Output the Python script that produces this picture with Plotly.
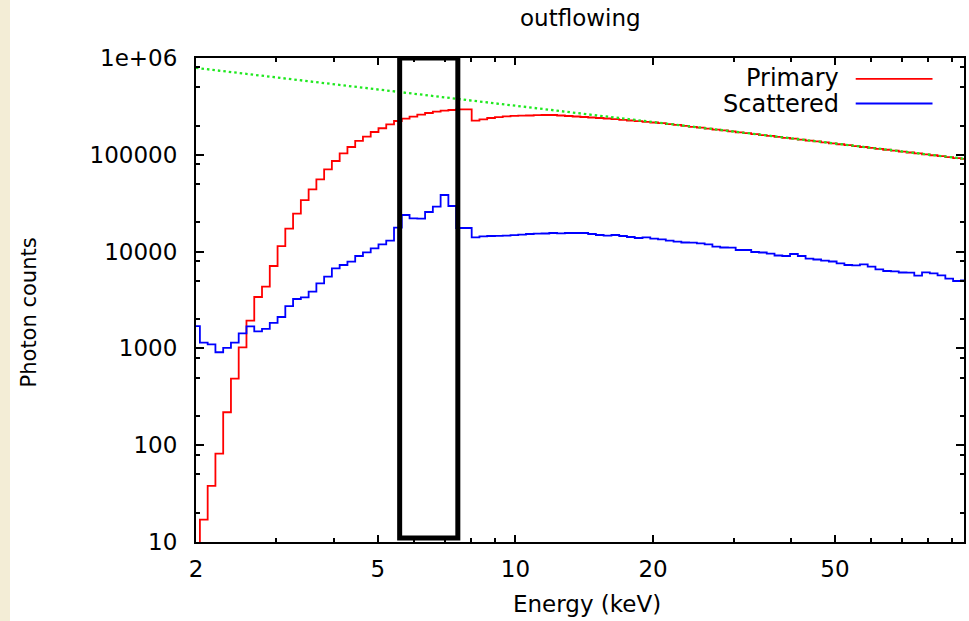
import numpy as np
import plotly.graph_objects as go

# Bin centres (keV), log-spaced histogram bins as drawn in the chart
energy_kev = [
    2.000, 2.080, 2.163, 2.249, 2.339, 2.432, 2.529, 2.630, 2.735, 2.844,
    2.958, 3.076, 3.198, 3.326, 3.459, 3.597, 3.740, 3.889, 4.044, 4.206,
    4.374, 4.548, 4.729, 4.918, 5.114, 5.318, 5.531, 5.751, 5.981, 6.219,
    6.467, 6.726, 6.994, 7.273, 7.563, 7.865, 8.179, 8.505, 8.844, 9.197,
    9.564, 9.945, 10.34, 10.75, 11.18, 11.63, 12.09, 12.58, 13.08, 13.60,
    14.14, 14.71, 15.29, 15.90, 16.54, 17.20, 17.88, 18.60, 19.34, 20.11,
    20.91, 21.75, 22.61, 23.52, 24.46, 25.43, 26.45, 27.50, 28.60, 29.74,
    30.92, 32.16, 33.44, 34.78, 36.16, 37.61, 39.11, 40.67, 42.29, 43.98,
    45.73, 47.55, 49.45, 51.42, 53.48, 55.61, 57.83, 60.14, 62.53, 65.03,
    67.62, 70.32, 73.13, 76.04, 79.08, 82.23, 85.51, 88.93, 92.47, 96.16,
]

primary_counts = [
    5, 17, 38, 82, 219, 487, 1026, 1932, 3396, 4340,
    7100, 11400, 17250, 24640, 34100, 44000, 55800, 70800, 86300, 103600,
    120400, 139000, 153800, 172000, 188000, 206600, 223500, 236000, 247600, 259600,
    270400, 278700, 285600, 290400, 294000, 294500, 225000, 232600, 240000, 245500,
    250000, 253000, 253400, 254700, 256500, 257700, 257700, 254700, 251600, 248700,
    245700, 242800, 240000, 237100, 233200, 229900, 226100, 222900, 219200, 215600,
    212100, 207900, 203400, 199000, 194700, 190500, 186400, 182300, 178400, 174500,
    170800, 167100, 163500, 159900, 156500, 153100, 149800, 146600, 143400, 140300,
    137300, 134300, 131400, 128500, 125800, 123100, 120400, 117800, 115200, 112700,
    110300, 107900, 105600, 103300, 101100, 98900, 96800, 94700, 92600, 90600,
]

scattered_counts = [
    1702, 1145, 1103, 912, 1014, 1145, 1432, 1691, 1502, 1593,
    1837, 2110, 2740, 3237, 3371, 3853, 4707, 5504, 6716, 7270,
    7866, 9010, 9840, 10820, 11900, 12970, 17650, 23890, 22080, 21880,
    25650, 29090, 38450, 29580, 17530, 17530, 14050, 14390, 14500, 14560,
    14630, 14770, 14980, 15200, 15300, 15380, 15560, 15450, 15560, 15560,
    15560, 15200, 14840, 14600, 14840, 14500, 14150, 13820, 14050, 13590,
    13400, 12960, 12660, 12420, 12360, 12180, 11900, 11230, 11030, 10970,
    10390, 10390, 9906, 9790, 9513, 9115, 9007, 9446, 9007, 8445,
    8287, 8054, 7902, 7570, 7271, 7219, 7393, 6982, 6563, 6304,
    6259, 6083, 6053, 5636, 6112, 5968, 5691, 5248, 4971, 5030,
]

# Intrinsic (unabsorbed) continuum, green dotted line
intrinsic_energy = [2, 3, 4, 5.6, 7.57, 10, 20, 30, 50, 95.8]
intrinsic_counts = [790000, 628000, 535000, 444000, 375000, 321000, 218000, 174000, 131000, 91000]

# Highlighted Fe K band (box)
box_energy = [5.58, 7.48]
box_counts = [11.0, 1.0e6]

x_tick_vals = [2, 5, 10, 20, 50]
x_tick_text = ["2", "5", "10", "20", "50"]
x_minor_vals = [3, 4, 6, 7, 8, 9, 30, 40, 60, 70, 80, 90]
y_tick_vals = [10, 100, 1000, 10000, 100000, 1000000]
y_tick_text = ["10", "100", "1000", "10000", "100000", "1e+06"]
y_minor_vals = [m * 10 ** d for d in range(1, 6) for m in (2, 5, 8)]

x_range = [2.0, 95.8]
y_range = [10, 1.0e6]

FONT = "DejaVu Sans"
FS = 23

fig = go.Figure()
fig.add_trace(go.Scatter(x=energy_kev, y=primary_counts, mode="lines", line_shape="hvh",
                         line=dict(color="#ff0000", width=1.8), name="Primary"))
fig.add_trace(go.Scatter(x=energy_kev, y=scattered_counts, mode="lines", line_shape="hvh",
                         line=dict(color="#0000ff", width=1.8), name="Scattered"))
fig.add_trace(go.Scatter(x=intrinsic_energy, y=intrinsic_counts, mode="lines",
                         line=dict(color="#1fe81f", width=2.3, dash="2.5px,3px"), name="Intrinsic"))

fig.add_shape(type="rect", xref="x", yref="y",
              x0=box_energy[0], x1=box_energy[1], y0=box_counts[0], y1=box_counts[1],
              line=dict(color="black", width=5), fillcolor="rgba(0,0,0,0)")

# beige strip at the left edge of the slide
fig.add_shape(type="rect", xref="paper", yref="paper", x0=-0.2552, x1=-0.2422, y0=-0.3, y1=1.3,
              line=dict(width=0), fillcolor="#f3edd6", layer="below")

# manual gnuplot-style legend (text left, sample right)
legend_items = [("Primary", "#ff0000", 0.958, 0.957), ("Scattered", "#0000ff", 0.904, 0.906)]
for label, color, ytxt, yline in legend_items:
    fig.add_annotation(x=0.8395, y=ytxt, xref="paper", yref="paper", text=label, showarrow=False,
                       xanchor="right", yanchor="middle", font=dict(family=FONT, size=24, color="black"))
    fig.add_shape(type="line", xref="paper", yref="paper", x0=0.859, x1=0.959, y0=yline, y1=yline,
                  line=dict(color=color, width=1.8))

# axis titles and plot title as annotations for exact placement
fig.add_annotation(x=0.509, y=-0.128, xref="paper", yref="paper", text="Energy (keV)", showarrow=False,
                   xanchor="center", yanchor="middle", font=dict(family=FONT, size=FS, color="black"))
fig.add_annotation(x=-0.217, y=0.475, xref="paper", yref="paper", text="Photon counts", showarrow=False,
                   textangle=-90, xanchor="center", yanchor="middle", font=dict(family=FONT, size=21, color="black"))
fig.add_annotation(x=0.5, y=1.083, xref="paper", yref="paper", text="outflowing", showarrow=False,
                   xanchor="center", yanchor="middle", font=dict(family=FONT, size=FS, color="black"))

axis_common = dict(showgrid=False, zeroline=False, showline=True, linecolor="black", linewidth=2,
                   mirror="ticks", ticks="inside", tickcolor="black", tickwidth=1.5, automargin=False,
                   tickfont=dict(family=FONT, size=FS, color="black"))

fig.update_xaxes(type="log", range=[np.log10(x_range[0]), np.log10(x_range[1])],
                 tickvals=x_tick_vals, ticktext=x_tick_text, ticklen=7,
                 minor=dict(tickvals=x_minor_vals, ticks="inside", ticklen=4, tickcolor="black", tickwidth=1.5),
                 ticklabelstandoff=5, **axis_common)
fig.update_yaxes(type="log", range=[np.log10(y_range[0]), np.log10(y_range[1])],
                 tickvals=y_tick_vals, ticktext=y_tick_text, ticklen=8,
                 minor=dict(tickvals=y_minor_vals, ticks="inside", ticklen=4, tickcolor="black", tickwidth=1.5),
                 ticklabelstandoff=12, **axis_common)

fig.update_layout(
    width=969, height=621, autosize=False,
    margin=dict(l=196, r=5, t=58, b=79, pad=0),
    paper_bgcolor="white", plot_bgcolor="white",
    showlegend=False,
)

# remove the browser's default page margin so the figure fills the window exactly
fig.write_html("out.html", config={"displayModeBar": False},
               post_script="document.body.style.margin='0';document.body.style.overflow='hidden';")
